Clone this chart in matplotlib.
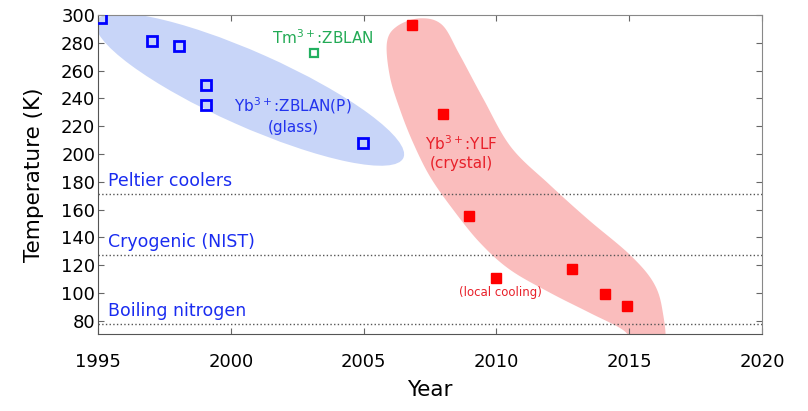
import numpy as np
import matplotlib
matplotlib.use("Agg")
import matplotlib.pyplot as plt
from matplotlib.patches import Ellipse, Polygon
from matplotlib.transforms import ScaledTranslation

# data
glass_years = [1995.1, 1997.05, 1998.05, 1999.05, 1999.05, 2004.98]
glass_temps = [298, 281.5, 277.5, 250, 235.5, 208]

tm_years = [2003.13]
tm_temps = [273]

crystal_years = [2006.82, 2008.0, 2008.97, 2009.98, 2012.85, 2014.08, 2014.92]
crystal_temps = [293, 229, 155.5, 110.5, 117, 99, 90.5]

ref_names = ["Peltier coolers", "Cryogenic (NIST)", "Boiling nitrogen"]
ref_temps = [171, 127.5, 77.5]

# outline of the red "crystal" region (year, K), clockwise from the top
crystal_outline_x = [2007.12, 2007.95, 2008.6, 2009.5, 2010.55, 2012.0, 2013.45, 2015.0,
                     2015.9, 2016.25, 2016.3, 2015.3, 2014.77, 2013.52,
                     2012.02, 2010.51, 2009.38, 2008.37, 2007.50, 2006.86, 2006.37, 2005.99,
                     2005.88, 2006.26]
crystal_outline_y = [297.6, 293, 272, 240, 205, 178, 153, 128,
                     108, 88, 62, 62, 73.4, 85.7,
                     100.2, 116.8, 136.2, 160.0, 183.8, 208.3, 232.0, 255.8,
                     280.3, 291.9]


def smooth_closed(xs, ys, n=25):
    # closed Catmull-Rom curve through the outline points
    P = np.column_stack([xs, ys])
    N = len(P)
    t = np.linspace(0, 1, n, endpoint=False)[:, None]
    out = []
    for i in range(N):
        p0, p1, p2, p3 = P[i - 1], P[i], P[(i + 1) % N], P[(i + 2) % N]
        out.append(0.5 * (2 * p1 + (-p0 + p2) * t
                          + (2 * p0 - 5 * p1 + 4 * p2 - p3) * t ** 2
                          + (-p0 + 3 * p1 - 3 * p2 + p3) * t ** 3))
    return np.vstack(out)


fig = plt.figure(figsize=(8.08, 4.11), dpi=100)
ax = fig.add_axes([0.1213, 0.1873, 0.8217, 0.7762])

# blue glass region
glass_shape = Ellipse((0, 0), 3.36, 0.74, angle=-24, facecolor="#c8d5f8", edgecolor="none",
                      transform=fig.dpi_scale_trans + ScaledTranslation(2000.72, 246.4, ax.transData),
                      zorder=1)
ax.add_patch(glass_shape)

# red crystal region
ax.add_patch(Polygon(smooth_closed(crystal_outline_x, crystal_outline_y), closed=True,
                     facecolor="#fabdbd", edgecolor="none", zorder=1))

# reference temperatures
for name, temp in zip(ref_names, ref_temps):
    ax.axhline(temp, color="#555555", ls=":", lw=1.0, zorder=2)
    ax.text(1995.38, temp + 2.8, name, color="#1a2cf0", fontsize=12.5, va="bottom", zorder=3)

ax.plot(glass_years, glass_temps, ls="none", marker="s", markersize=6.5, markerfacecolor="none",
        markeredgecolor="#0000ff", markeredgewidth=2, zorder=4)
ax.plot(tm_years, tm_temps, ls="none", marker="s", markersize=5.5, markerfacecolor="none",
        markeredgecolor="#22b060", markeredgewidth=1.6, zorder=4)
ax.plot(crystal_years, crystal_temps, ls="none", marker="s", markersize=7,
        color="#ff0000", zorder=4)

ax.text(2002.34, 228, "Yb$^{3+}$:ZBLAN(P)\n(glass)", color="#2233ee", fontsize=11,
        ha="center", va="center", linespacing=1.3, zorder=3)
ax.text(2003.47, 284, "Tm$^{3+}$:ZBLAN", color="#22aa55", fontsize=11,
        ha="center", va="center", zorder=3)
ax.text(2008.67, 201, "Yb$^{3+}$:YLF\n(crystal)", color="#e8202a", fontsize=11,
        ha="center", va="center", linespacing=1.3, zorder=3)
ax.text(2010.17, 100.7, "(local cooling)", color="#e8202a", fontsize=8.5,
        ha="center", va="center", zorder=3)

ax.set_xlim(1995, 2020)
ax.set_ylim(70.5, 300)
ax.set_xticks([1995, 2000, 2005, 2010, 2015, 2020])
ax.set_yticks(np.arange(80, 301, 20))
ax.tick_params(direction="in", length=4, labelsize=13, top=True, right=True,
               color="#666666", pad=2)
ax.tick_params(axis="x", pad=14)
for side in ["left", "bottom"]:
    ax.spines[side].set_color("#555555")
for side in ["top", "right"]:
    ax.spines[side].set_color("#888888")

ax.set_xlabel("Year", fontsize=15.5, labelpad=6)
ax.set_ylabel("Temperature (K)", fontsize=15.5, labelpad=12)

fig.savefig("out.png", dpi=100)
